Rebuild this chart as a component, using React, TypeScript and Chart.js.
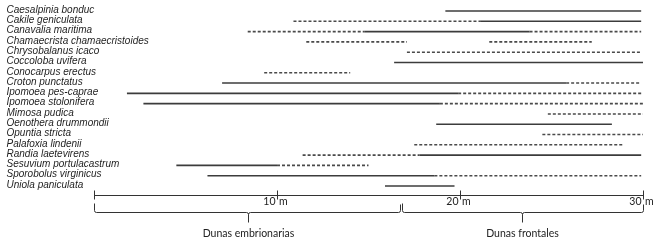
import React, { useEffect, useRef } from 'react';
import { Chart, registerables } from 'chart.js';
Chart.register(...registerables);

const species = [
  'Caesalpinia bonduc',
  'Cakile geniculata',
  'Canavalia maritima',
  'Chamaecrista chamaecristoides',
  'Chrysobalanus icaco',
  'Coccoloba uvifera',
  'Conocarpus erectus',
  'Croton punctatus',
  'Ipomoea pes-caprae',
  'Ipomoea stolonifera',
  'Mimosa pudica',
  'Oenothera drummondii',
  'Opuntia stricta',
  'Palafoxia lindenii',
  'Randia laetevirens',
  'Sesuvium portulacastrum',
  'Sporobolus virginicus',
  'Uniola paniculata',
];

// [species index, from (m), to (m)]
const solidRanges: number[][] = [
  [0, 19.2, 29.9],
  [1, 21.1, 29.9],
  [2, 14.8, 23.8],
  [5, 16.4, 30.0],
  [7, 7.0, 25.8],
  [8, 1.8, 19.9],
  [9, 2.7, 18.9],
  [11, 18.7, 28.3],
  [14, 17.8, 29.9],
  [15, 4.5, 10.0],
  [16, 6.2, 18.6],
  [17, 15.9, 19.7],
];

const dashedRanges: number[][] = [
  [1, 10.9, 21.1],
  [2, 8.4, 14.8],
  [2, 23.8, 29.9],
  [3, 11.6, 17.1],
  [3, 21.6, 27.2],
  [4, 17.1, 29.9],
  [6, 9.3, 14.0],
  [7, 25.8, 29.9],
  [8, 19.9, 29.9],
  [9, 18.9, 30.0],
  [10, 24.8, 30.0],
  [12, 24.5, 30.0],
  [13, 17.5, 28.9],
  [14, 11.4, 17.8],
  [15, 10.0, 15.0],
  [16, 18.6, 29.9],
];

const axisTicks = [0, 10, 20, 30];
const axisTickLabels = ['', '10', '20', '30'];
const axisUnit = 'm';
const zoneBounds = [0, 16.8, 30];
const zoneLabels = ['Dunas embrionarias', 'Dunas frontales'];

const labelPlugin = {
  id: 'speciesLabels',
  afterDraw(chart: any) {
    const ctx = chart.ctx as CanvasRenderingContext2D;
    const ys = chart.scales.y;
    ctx.save();
    ctx.font = 'italic 10px "Liberation Sans", Arial, sans-serif';
    ctx.fillStyle = '#1e1e1e';
    ctx.textAlign = 'left';
    ctx.textBaseline = 'middle';
    species.forEach((s, i) => {
      ctx.fillText(s, 6.5, ys.getPixelForValue(i) - 1);
    });
    ctx.restore();
  },
};

const axisPlugin = {
  id: 'distanceAxis',
  afterDraw(chart: any) {
    const ctx = chart.ctx as CanvasRenderingContext2D;
    const xs = chart.scales.x;
    const base = Math.round(chart.chartArea.bottom + 9) + 0.5;
    const px = (v: number) => Math.round(xs.getPixelForValue(v)) + 0.5;
    ctx.save();
    ctx.strokeStyle = '#333';
    ctx.lineWidth = 1;
    ctx.beginPath();
    ctx.moveTo(px(axisTicks[0]), base);
    ctx.lineTo(px(axisTicks[axisTicks.length - 1]), base);
    ctx.stroke();
    ctx.font = '10.5px Lato, "Open Sans", sans-serif';
    ctx.fillStyle = '#222';
    ctx.textBaseline = 'alphabetic';
    axisTicks.forEach((v, i) => {
      const x = px(v);
      ctx.beginPath();
      ctx.moveTo(x, base - 5);
      ctx.lineTo(x, base + 4);
      ctx.stroke();
      if (axisTickLabels[i]) {
        ctx.textAlign = 'right';
        ctx.fillText(axisTickLabels[i], x - 2, base + 9);
        ctx.textAlign = 'left';
        ctx.fillText(axisUnit, x + 1.5, base + 9);
      }
    });
    const by = base + 17;
    for (let i = 0; i < zoneLabels.length; i++) {
      const x0 = px(zoneBounds[i]) + (i > 0 ? 1 : 0);
      const x1 = px(zoneBounds[i + 1]) - (i < zoneLabels.length - 1 ? 1 : 0);
      const mid = px((zoneBounds[i] + zoneBounds[i + 1]) / 2);
      ctx.beginPath();
      ctx.moveTo(x0, by - 9);
      ctx.lineTo(x0, by - 2);
      ctx.quadraticCurveTo(x0, by, x0 + 2, by);
      ctx.lineTo(mid - 2, by);
      ctx.quadraticCurveTo(mid, by, mid, by + 2);
      ctx.lineTo(mid, by + 10);
      ctx.moveTo(mid, by + 2);
      ctx.quadraticCurveTo(mid, by, mid + 2, by);
      ctx.lineTo(x1 - 2, by);
      ctx.quadraticCurveTo(x1, by, x1, by - 2);
      ctx.lineTo(x1, by - 8);
      ctx.stroke();
      ctx.textAlign = 'center';
      ctx.fillText(zoneLabels[i], mid, by + 24);
    }
    ctx.restore();
  },
};

export default function App() {
  const ref = useRef<HTMLCanvasElement>(null);
  useEffect(() => {
    const canvas = ref.current!;
    const mk = (r: number[], dashed: boolean) => ({
      data: [
        { x: r[1], y: species[r[0]] },
        { x: r[2], y: species[r[0]] },
      ],
      borderColor: dashed ? '#4a4a4a' : '#3c3c3c',
      borderWidth: 1.6,
      borderDash: dashed ? [3, 2] : [],
      borderCapStyle: 'butt',
      pointRadius: 0,
      pointHoverRadius: 0,
      fill: false,
      tension: 0,
      clip: false,
    });
    const chart = new Chart(canvas, {
      type: 'line',
      data: {
        datasets: [
          ...solidRanges.map((r) => mk(r, false)),
          ...dashedRanges.map((r) => mk(r, true)),
        ] as any,
      },
      options: {
        animation: false,
        responsive: false,
        events: [],
        layout: { padding: { left: 6, right: 21, top: 11, bottom: 59 } },
        plugins: { legend: { display: false }, tooltip: { enabled: false } },
        scales: {
          x: { type: 'linear', min: 0, max: 30, display: false },
          y: {
            type: 'category',
            labels: species,
            grid: { display: false },
            border: { display: false },
            ticks: { display: false },
            afterFit(scale: any) {
              scale.width = 88;
              scale.paddingTop = 0;
              scale.paddingBottom = 0;
            },
          },
        },
      } as any,
      plugins: [labelPlugin, axisPlugin],
    });
    return () => chart.destroy();
  }, []);
  return (
    <div style={{ position: 'absolute', left: 0, top: 0, width: 664, height: 245, background: '#fff' }}>
      <canvas ref={ref} width={664} height={245} style={{ display: 'block' }} />
    </div>
  );
}
